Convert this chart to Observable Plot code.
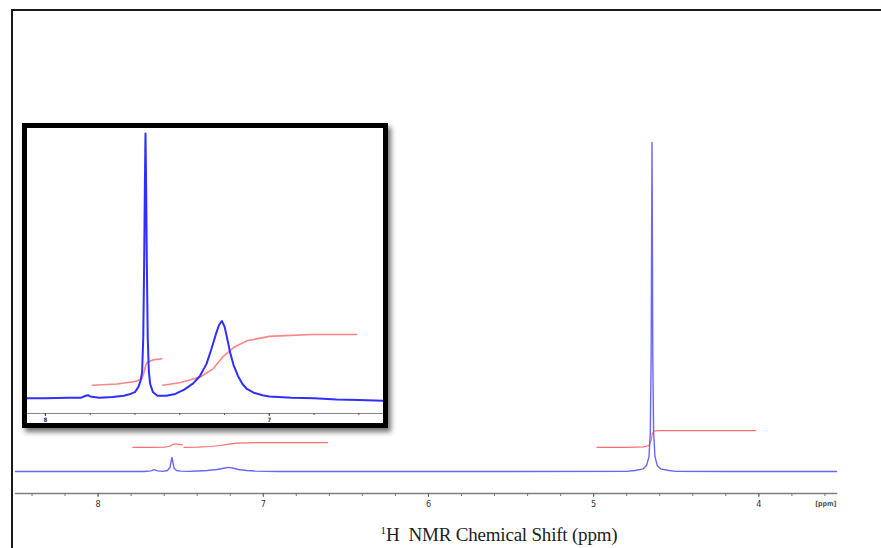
<!DOCTYPE html>
<html><head><meta charset="utf-8">
<script src="https://cdn.jsdelivr.net/npm/d3@7"></script>
<script src="https://cdn.jsdelivr.net/npm/@observablehq/plot@0.6"></script>
<style>
html,body{margin:0;padding:0;background:#fff;}
#wrap{position:relative;width:881px;height:548px;overflow:hidden;background:#fff;}
#frame{position:absolute;left:11px;top:9px;width:880px;height:548px;border-top:2px solid #1a1a1a;border-left:2px solid #1a1a1a;box-sizing:border-box;}
#main{position:absolute;left:0;top:0;}
#xlabel{position:absolute;top:518px;left:299px;width:400px;text-align:center;font-family:"Liberation Serif","Times New Roman",serif;font-size:19px;color:#222;line-height:24px;letter-spacing:-0.2px;}
#xlabel sup{font-size:11px;}
#inset{position:absolute;left:22px;top:123px;width:356px;height:295px;border:5px solid #000;box-shadow:3px 4px 5px rgba(0,0,0,0.55);background:#fff;}
</style></head>
<body>
<div id="wrap">
  <div id="main"></div>
  <div id="frame"></div>
  <div id="inset"></div>
  <div id="xlabel"><sup>1</sup>H&nbsp; NMR Chemical Shift (ppm)</div>
</div>
<script>
// ---- Main spectrum (ppm, relative intensity; tallest peak = 100) ----
const mainShift = [8.50, 8.00, 7.72, 7.68, 7.66, 7.64, 7.61, 7.58, 7.565, 7.558, 7.553, 7.548, 7.54, 7.525, 7.50, 7.45, 7.40, 7.34, 7.28, 7.24, 7.21, 7.18, 7.15, 7.10, 7.05, 6.98, 6.90, 6.50, 5.50, 4.80, 4.75, 4.70, 4.68, 4.665, 4.657, 4.652, 4.649, 4.647, 4.645, 4.642, 4.637, 4.629, 4.615, 4.595, 4.545, 4.50, 4.20, 3.53];
const mainIntensity = [0, 0, 0, 0.2, 0.55, 0.2, 0.05, 0.3, 1.2, 3.0, 4.3, 3.0, 1.0, 0.3, 0.1, 0.05, 0.15, 0.3, 0.6, 1.0, 1.25, 1.0, 0.6, 0.3, 0.15, 0.05, 0, 0, 0, 0.05, 0.3, 0.8, 1.8, 4.5, 12, 35, 75, 100, 75, 35, 12, 4.5, 1.8, 0.8, 0.3, 0.05, 0, 0];

// ---- Main integral traces ----
const mainInt1Shift = [7.79, 7.70, 7.60, 7.57, 7.555, 7.545, 7.52, 7.49];
const mainInt1Value = [7.3, 7.3, 7.4, 7.6, 8.0, 8.3, 8.3, 8.1];
const mainInt2Shift = [7.48, 7.40, 7.32, 7.26, 7.21, 7.16, 7.10, 7.00, 6.61];
const mainInt2Value = [7.3, 7.4, 7.6, 7.9, 8.3, 8.6, 8.7, 8.8, 8.8];
const mainInt3Shift = [4.98, 4.80, 4.70, 4.665, 4.652, 4.645, 4.635, 4.60, 4.02];
const mainInt3Value = [7.3, 7.3, 7.5, 7.9, 9.5, 11.5, 12.3, 12.4, 12.4];

const mainMinorTicks = [8.4, 8.2, 8.0, 7.8, 7.6, 7.4, 7.2, 7.0, 6.8, 6.6, 6.4, 6.2, 6.0, 5.8, 5.6, 5.4, 5.2, 5.0, 4.8, 4.6, 4.4, 4.2, 4.0, 3.8, 3.6];
const mainTickLabels = [8, 7, 6, 5, 4];
const unitLabel = ["[ppm]"];

// ---- Inset (expanded aromatic region) ----
const insetShift = [8.08, 8.00, 7.90, 7.84, 7.82, 7.81, 7.80, 7.76, 7.70, 7.65, 7.62, 7.60, 7.585, 7.575, 7.568, 7.563, 7.559, 7.556, 7.553, 7.550, 7.547, 7.543, 7.538, 7.532, 7.52, 7.50, 7.46, 7.42, 7.38, 7.34, 7.31, 7.28, 7.26, 7.24, 7.225, 7.212, 7.20, 7.19, 7.175, 7.16, 7.14, 7.12, 7.10, 7.07, 7.03, 7.00, 6.90, 6.80, 6.70, 6.60, 6.49];
const insetIntensity = [0.02, 0.02, 0.03, 0.03, 0.06, 0.07, 0.05, 0.03, 0.04, 0.06, 0.09, 0.12, 0.2, 0.3, 0.45, 1.0, 2.2, 3.4, 4.3, 3.4, 2.2, 1.0, 0.45, 0.25, 0.12, 0.06, 0.06, 0.09, 0.16, 0.26, 0.38, 0.58, 0.8, 1.04, 1.2, 1.27, 1.18, 1.02, 0.76, 0.56, 0.38, 0.25, 0.17, 0.11, 0.07, 0.05, 0.03, 0.02, 0, -0.01, -0.02];
const insetIntAShift = [7.79, 7.68, 7.60, 7.57, 7.56, 7.552, 7.545, 7.52, 7.48];
const insetIntAValue = [0.23, 0.25, 0.29, 0.33, 0.43, 0.55, 0.60, 0.64, 0.66];
const insetIntBShift = [7.476, 7.40, 7.31, 7.25, 7.21, 7.16, 7.10, 7.00, 6.81, 6.61];
const insetIntBValue = [0.23, 0.27, 0.36, 0.50, 0.68, 0.84, 0.95, 1.02, 1.05, 1.05];
const insetMinorTicks = [8.0, 7.8, 7.6, 7.4, 7.2, 7.0, 6.8, 6.6];
const insetTickLabels = [8, 7];

const pts = (xs, ys) => xs.map((x, i) => ({shift: x, value: ys[i]}));

const BLUE = "#5656ff";
const RED = "#ff5c5c";
const tickFont = "'Liberation Sans Narrow','DejaVu Sans Condensed','Liberation Sans',sans-serif";

const mainPlot = Plot.plot({
  width: 881, height: 516,
  marginLeft: 15, marginRight: 45, marginTop: 142, marginBottom: 23,
  style: {fontFamily: tickFont, color: "#333", background: "transparent"},
  x: {domain: [8.5, 3.53]},
  y: {domain: [-6.69, 100], axis: null},
  marks: [
    Plot.frame({anchor: "bottom", stroke: "#808080", strokeWidth: 1.5}),
    Plot.axisX({ticks: mainMinorTicks, tickSize: 3, tickFormat: () => "", label: null, stroke: "#777"}),
    Plot.axisX({ticks: mainTickLabels, tickSize: 4, tickPadding: 3, fontSize: 9, tickFormat: d => String(d), label: null, stroke: "#666"}),
    Plot.text(unitLabel, {text: d => d, frameAnchor: "bottom-right", textAnchor: "end", dy: 12, fontSize: 7, fontWeight: "bold", fill: "#555"}),
    Plot.line(pts(mainInt1Shift, mainInt1Value), {x: "shift", y: "value", stroke: RED, strokeWidth: 1.2, strokeOpacity: 0.9}),
    Plot.line(pts(mainInt2Shift, mainInt2Value), {x: "shift", y: "value", stroke: RED, strokeWidth: 1.2, strokeOpacity: 0.9}),
    Plot.line(pts(mainInt3Shift, mainInt3Value), {x: "shift", y: "value", stroke: RED, strokeWidth: 1.2, strokeOpacity: 0.9}),
    Plot.line(pts(mainShift, mainIntensity), {x: "shift", y: "value", stroke: BLUE, strokeWidth: 1.4, strokeOpacity: 0.9})
  ]
});
document.getElementById("main").appendChild(mainPlot);

const insetPlot = Plot.plot({
  width: 356, height: 295,
  marginLeft: 0, marginRight: 0, marginTop: 5, marginBottom: 10,
  style: {fontFamily: tickFont, color: "#333", background: "transparent"},
  x: {domain: [8.08, 6.49]},
  y: {domain: [0, 4.3], range: [271, 5], axis: null},
  marks: [
    Plot.frame({anchor: "bottom", stroke: "#888", strokeWidth: 1.2}),
    Plot.axisX({ticks: insetMinorTicks, tickSize: 2, tickFormat: () => "", label: null, stroke: "#a33"}),
    Plot.axisX({ticks: insetTickLabels, tickSize: 3, tickPadding: 1, fontSize: 6, fontWeight: "bold", tickFormat: d => String(d), label: null, stroke: "#444"}),
    Plot.line(pts(insetIntAShift, insetIntAValue), {x: "shift", y: "value", stroke: "#ff7070", strokeWidth: 1.6, strokeOpacity: 0.85}),
    Plot.line(pts(insetIntBShift, insetIntBValue), {x: "shift", y: "value", stroke: "#ff7070", strokeWidth: 1.6, strokeOpacity: 0.85}),
    Plot.line(pts(insetShift, insetIntensity), {x: "shift", y: "value", stroke: "#2f2fff", strokeWidth: 2})
  ]
});
document.getElementById("inset").appendChild(insetPlot);
</script>
</body></html>
